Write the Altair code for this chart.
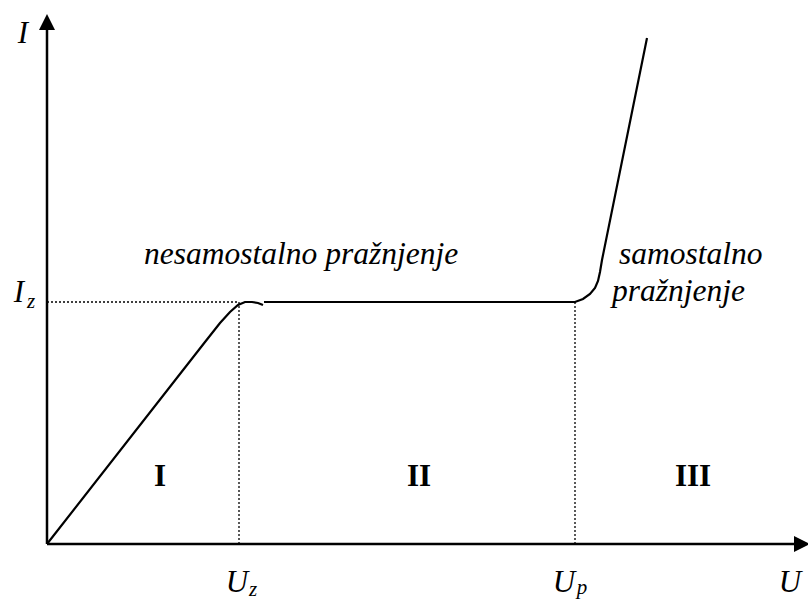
import altair as alt
import pandas as pd

# Characteristic voltages / current of the gas discharge (arbitrary units)
U_Z = 192      # saturation voltage
U_P = 528      # breakdown voltage
I_Z = 242      # saturation current
U_END = 755    # end of the U axis (arrow)
I_END = 522    # end of the I axis (arrow)

# Region I: rise of the current up to saturation
rise_u = [0, 158, 173, 183, 191, 198, 205, 211, 216]
rise_i = [0, 202, 221, 232, 239, 242, 242, 241, 239]

# Region II plateau and region III avalanche growth
plateau_u = [217, 528, 536, 543, 548, 551, 553, 555, 600]
plateau_i = [242, 242, 245, 250, 256, 263, 272, 284, 506]

region_names = ["I", "II", "III"]
region_u = [113, 372, 646]
region_i = [58, 58, 58]

FONT = "Times New Roman, Liberation Serif, serif"

xs = alt.Scale(domain=[-47, 761], nice=False, zero=False)
ys = alt.Scale(domain=[-57, 544], nice=False, zero=False)
X = lambda f="u": alt.X(f"{f}:Q", scale=xs, axis=None)
Y = lambda f="i": alt.Y(f"{f}:Q", scale=ys, axis=None)

curve_rows = []
for k, (u, i) in enumerate(zip(rise_u, rise_i)):
    curve_rows.append({"seg": "a", "k": k, "u": u, "i": i})
for k, (u, i) in enumerate(zip(plateau_u, plateau_i)):
    curve_rows.append({"seg": "b", "k": k, "u": u, "i": i})
curve_df = pd.DataFrame(curve_rows)

curve = alt.Chart(curve_df).mark_line(color="black", strokeWidth=2.2).encode(
    x=X(), y=Y(), detail="seg:N", order="k:Q"
)

axes_df = pd.DataFrame([
    {"u": 0, "i": 0, "u2": U_END, "i2": 0},
    {"u": 0, "i": 0, "u2": 0, "i2": I_END},
])
axes = alt.Chart(axes_df).mark_rule(color="black", strokeWidth=2.5).encode(
    x=X(), y=Y(), x2="u2:Q", y2="i2:Q"
)

guides_df = pd.DataFrame([
    {"u": 0, "i": I_Z, "u2": U_Z, "i2": I_Z},
    {"u": U_Z, "i": 0, "u2": U_Z, "i2": I_Z},
    {"u": U_P, "i": 0, "u2": U_P, "i2": I_Z},
])
guides = alt.Chart(guides_df).mark_rule(
    color="black", strokeWidth=1.3, strokeDash=[2, 2]
).encode(x=X(), y=Y(), x2="u2:Q", y2="i2:Q")

arrow_up = alt.Chart(pd.DataFrame({"u": [0], "i": [I_END]})).mark_point(
    shape="M0,-1L-1,1L1,1Z", size=256, filled=True, color="black", opacity=1
).encode(x=X(), y=Y())
arrow_right = alt.Chart(pd.DataFrame({"u": [U_END], "i": [0]})).mark_point(
    shape="M1,0L-1,-1L-1,1Z", size=256, filled=True, color="black", opacity=1
).encode(x=X(), y=Y())

# Axis symbols
sym_df = pd.DataFrame([
    {"u": -24, "i": 501, "t": "I"},
    {"u": -28, "i": I_Z, "t": "I"},
    {"u": U_Z - 2, "i": -48, "t": "U"},
    {"u": U_P - 11, "i": -48, "t": "U"},
    {"u": 743, "i": -48, "t": "U"},
])
symbols = alt.Chart(sym_df).mark_text(
    font=FONT, fontSize=31, fontStyle="italic", align="center",
    baseline="alphabetic", color="black"
).encode(x=X(), y=Y(), text="t:N")

sub_df = pd.DataFrame([
    {"u": -16, "i": 236, "t": "z"},
    {"u": U_Z + 14, "i": -52, "t": "z"},
    {"u": U_P + 7, "i": -50, "t": "p"},
])
subs = alt.Chart(sub_df).mark_text(
    font=FONT, fontSize=21, fontStyle="italic", align="center",
    baseline="alphabetic", color="black"
).encode(x=X(), y=Y(), text="t:N")

notes_df = pd.DataFrame([
    {"u": 97, "i": 280, "t": "nesamostalno pražnjenje"},
    {"u": 572, "i": 280, "t": "samostalno"},
    {"u": 565, "i": 243, "t": "pražnjenje"},
])
notes = alt.Chart(notes_df).mark_text(
    font=FONT, fontSize=31.5, fontStyle="italic", align="left",
    baseline="alphabetic", color="black"
).encode(x=X(), y=Y(), text="t:N")

regions_df = pd.DataFrame({"u": region_u, "i": region_i, "t": region_names})
regions = alt.Chart(regions_df).mark_text(
    font=FONT, fontSize=31, fontWeight="bold", align="center",
    baseline="alphabetic", color="black"
).encode(x=X(), y=Y(), text="t:N")

chart = alt.layer(
    guides, axes, arrow_up, arrow_right, curve, symbols, subs, notes, regions
).properties(
    width=808, height=601, padding=0,
    autosize=alt.AutoSizeParams(type="none"), background="white"
).configure_view(stroke=None)

chart.save("out.html", embed_options={"renderer": "svg", "actions": False})
